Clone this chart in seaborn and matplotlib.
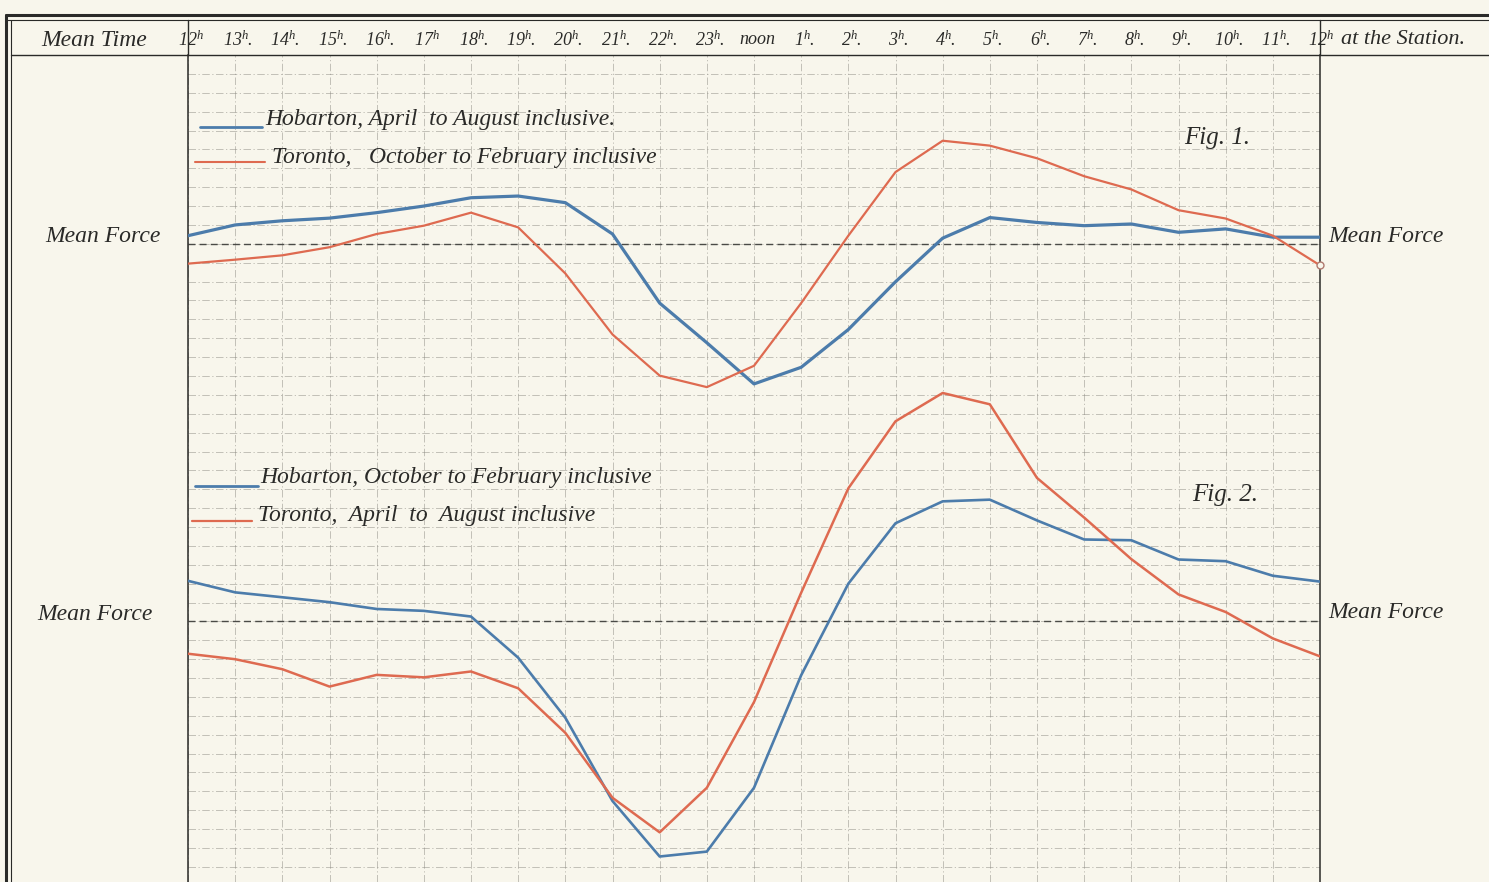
import numpy as np
import pandas as pd
import matplotlib
matplotlib.use("Agg")
import matplotlib.pyplot as plt
import seaborn as sns
from matplotlib.lines import Line2D

# ---------------- data (grid units relative to each figure's "Mean Force") ----------------
hours = list(range(25))
hour_numbers = ["12", "13", "14", "15", "16", "17", "18", "19", "20", "21", "22", "23",
                "noon", "1", "2", "3", "4", "5", "6", "7", "8", "9", "10", "11", "12"]
hour_dots = [False, True, True, True, True, False, True, True, True, True, True, True,
             False, True, True, True, True, True, True, True, True, True, True, True, False]

fig1_hobarton = [0.43, 1.0, 1.22, 1.36, 1.65, 2.0, 2.44, 2.53, 2.18, 0.52, -3.14, -5.24,
                 -7.42, -6.54, -4.54, -2.01, 0.3, 1.39, 1.13, 0.96, 1.05, 0.61, 0.79, 0.35, 0.35]
fig1_toronto = [-1.05, -0.84, -0.61, -0.18, 0.52, 0.96, 1.65, 0.87, -1.57, -4.8, -6.98, -7.59,
                -6.46, -3.14, 0.43, 3.8, 5.46, 5.2, 4.53, 3.58, 2.88, 1.78, 1.34, 0.43, -1.14]
fig2_hobarton = [2.15, 1.54, 1.28, 1.02, 0.66, 0.56, 0.26, -1.92, -5.1, -9.51, -12.45, -12.19,
                 -8.81, -2.85, 2.0, 5.2, 6.36, 6.45, 5.35, 4.34, 4.3, 3.28, 3.19, 2.42, 2.11]
fig2_toronto = [-1.71, -2.0, -2.53, -3.45, -2.83, -2.96, -2.65, -3.54, -5.9, -9.34, -11.17, -8.81,
                -4.27, 1.52, 7.05, 10.6, 12.1, 11.5, 7.6, 5.5, 3.3, 1.43, 0.5, -0.9, -1.85]

legend_fig1 = ["Hobarton, April  to August inclusive.", "Toronto,   October to February inclusive"]
legend_fig2 = ["Hobarton, October to February inclusive", "Toronto,  April  to  August inclusive"]

# ---------------- style ----------------
BG = "#f8f6ec"
BLUE = "#4c7cab"
RED = "#de6a50"
INK = "#2a2a28"
GRID = "#8f8d85"

sns.set_theme(style="white")
plt.rcParams["font.family"] = ["Liberation Serif", "DejaVu Serif"]
plt.rcParams["mathtext.fontset"] = "custom"
plt.rcParams["mathtext.it"] = "Liberation Serif:italic"
plt.rcParams["mathtext.rm"] = "Liberation Serif:italic"

W, H = 1489, 882
fig = plt.figure(figsize=(W / 100, H / 100), dpi=100, facecolor=BG)


def fx(px):
    return px / W


def fy(py):
    return 1 - py / H


ax = fig.add_axes([fx(188), 0, fx(1320) - fx(188), fy(55)])
ax.set_facecolor(BG)

FIG2_OFFSET = -20
df = pd.concat([
    pd.DataFrame({"hour": hours, "y": fig1_hobarton, "series": "f1_hob"}),
    pd.DataFrame({"hour": hours, "y": fig1_toronto, "series": "f1_tor"}),
    pd.DataFrame({"hour": hours, "y": np.array(fig2_hobarton) + FIG2_OFFSET, "series": "f2_hob"}),
    pd.DataFrame({"hour": hours, "y": np.array(fig2_toronto) + FIG2_OFFSET, "series": "f2_tor"}),
])
palette = {"f1_hob": BLUE, "f1_tor": RED, "f2_hob": BLUE, "f2_tor": RED}
sizes = {"f1_hob": 2.3, "f1_tor": 1.6, "f2_hob": 1.9, "f2_tor": 1.8}
sns.lineplot(data=df, x="hour", y="y", hue="series", size="series", sizes=sizes,
             palette=palette, legend=False, ax=ax, zorder=3)

# small ring at end of Toronto fig 1
ax.plot(hours[-1], fig1_toronto[-1], marker="o", ms=5, mfc=BG, mec="#b07a70", mew=1,
        zorder=4, clip_on=False)

ax.set_xlim(0, 24)
ax.set_ylim(-33.8, 10)
ax.set_xticks(hours)
ax.set_yticks(np.arange(-33, 11))
ax.tick_params(length=0, labelbottom=False, labelleft=False)
ax.set_xlabel("")
ax.set_ylabel("")
ax.grid(True, color=GRID, lw=0.6, linestyle=(0, (9, 3, 1.5, 3)), alpha=0.6, zorder=0)
for side in ["left", "right"]:
    ax.spines[side].set_color(INK)
    ax.spines[side].set_linewidth(1.1)
for side in ["top", "bottom"]:
    ax.spines[side].set_visible(False)

# mean force lines
ax.axhline(0, color="#4a4a46", lw=1.0, linestyle=(0, (5, 3)), zorder=2)
ax.axhline(FIG2_OFFSET, color="#4a4a46", lw=1.0, linestyle=(0, (5, 3)), zorder=2)

# ---------------- frame ----------------
def fline(x0, y0, x1, y1, lw=1.0, color=INK):
    fig.add_artist(Line2D([fx(x0), fx(x1)], [fy(y0), fy(y1)], lw=lw, color=color))


fline(6, 15, W, 15, lw=2.2)
fline(6, 20, W, 20, lw=0.8)
fline(6, 15, 6, H, lw=2.2)
fline(11, 20, 11, H, lw=0.8)
fline(11, 55, W, 55, lw=1.0)
fline(188, 20, 188, 55, lw=1.0)
fline(1320, 20, 1320, 55, lw=1.0)

# ---------------- header text ----------------
fig.text(fx(94), fy(40), "Mean Time", ha="center", va="center", fontsize=17,
         style="italic", color=INK)
for h, num, dot in zip(hours, hour_numbers, hour_dots):
    xpix = 188 + h * (1320 - 188) / 24
    if num == "noon":
        s = "noon"
    else:
        s = num + r"$^{h}$" + ("." if dot else "")
    shift = 3 if h < 24 else 1
    fig.text(fx(xpix + shift), fy(40), s, ha="center", va="center", fontsize=13,
             style="italic", color=INK)
fig.text(fx(1341), fy(40), "at the Station.", ha="left", va="center", fontsize=16,
         style="italic", color=INK)

# ---------------- side labels ----------------
for (xc, yc) in [(103, 236), (95, 614), (1386, 236), (1386, 612)]:
    fig.text(fx(xc), fy(yc), "Mean Force", ha="center", va="center", fontsize=17,
             style="italic", color=INK)

fig.text(fx(1217), fy(138), "Fig. 1.", ha="center", va="center", fontsize=18,
         style="italic", color=INK)
fig.text(fx(1225), fy(495), "Fig. 2.", ha="center", va="center", fontsize=18,
         style="italic", color=INK)

# ---------------- legends ----------------
leg_items = [
    (200, 262, 127, BLUE, 2.0, 265, 119, legend_fig1[0]),
    (195, 265, 162, RED, 1.5, 272, 157, legend_fig1[1]),
    (195, 258, 486, BLUE, 2.0, 260, 478, legend_fig2[0]),
    (192, 252, 521, RED, 1.6, 258, 516, legend_fig2[1]),
]
for x0, x1, yl, col, lw, xt, yt, label in leg_items:
    fline(x0, yl, x1, yl, lw=lw, color=col)
    fig.text(fx(xt), fy(yt), label, ha="left", va="center", fontsize=17,
             style="italic", color=INK)

fig.savefig("out.png", dpi=100, facecolor=BG)
